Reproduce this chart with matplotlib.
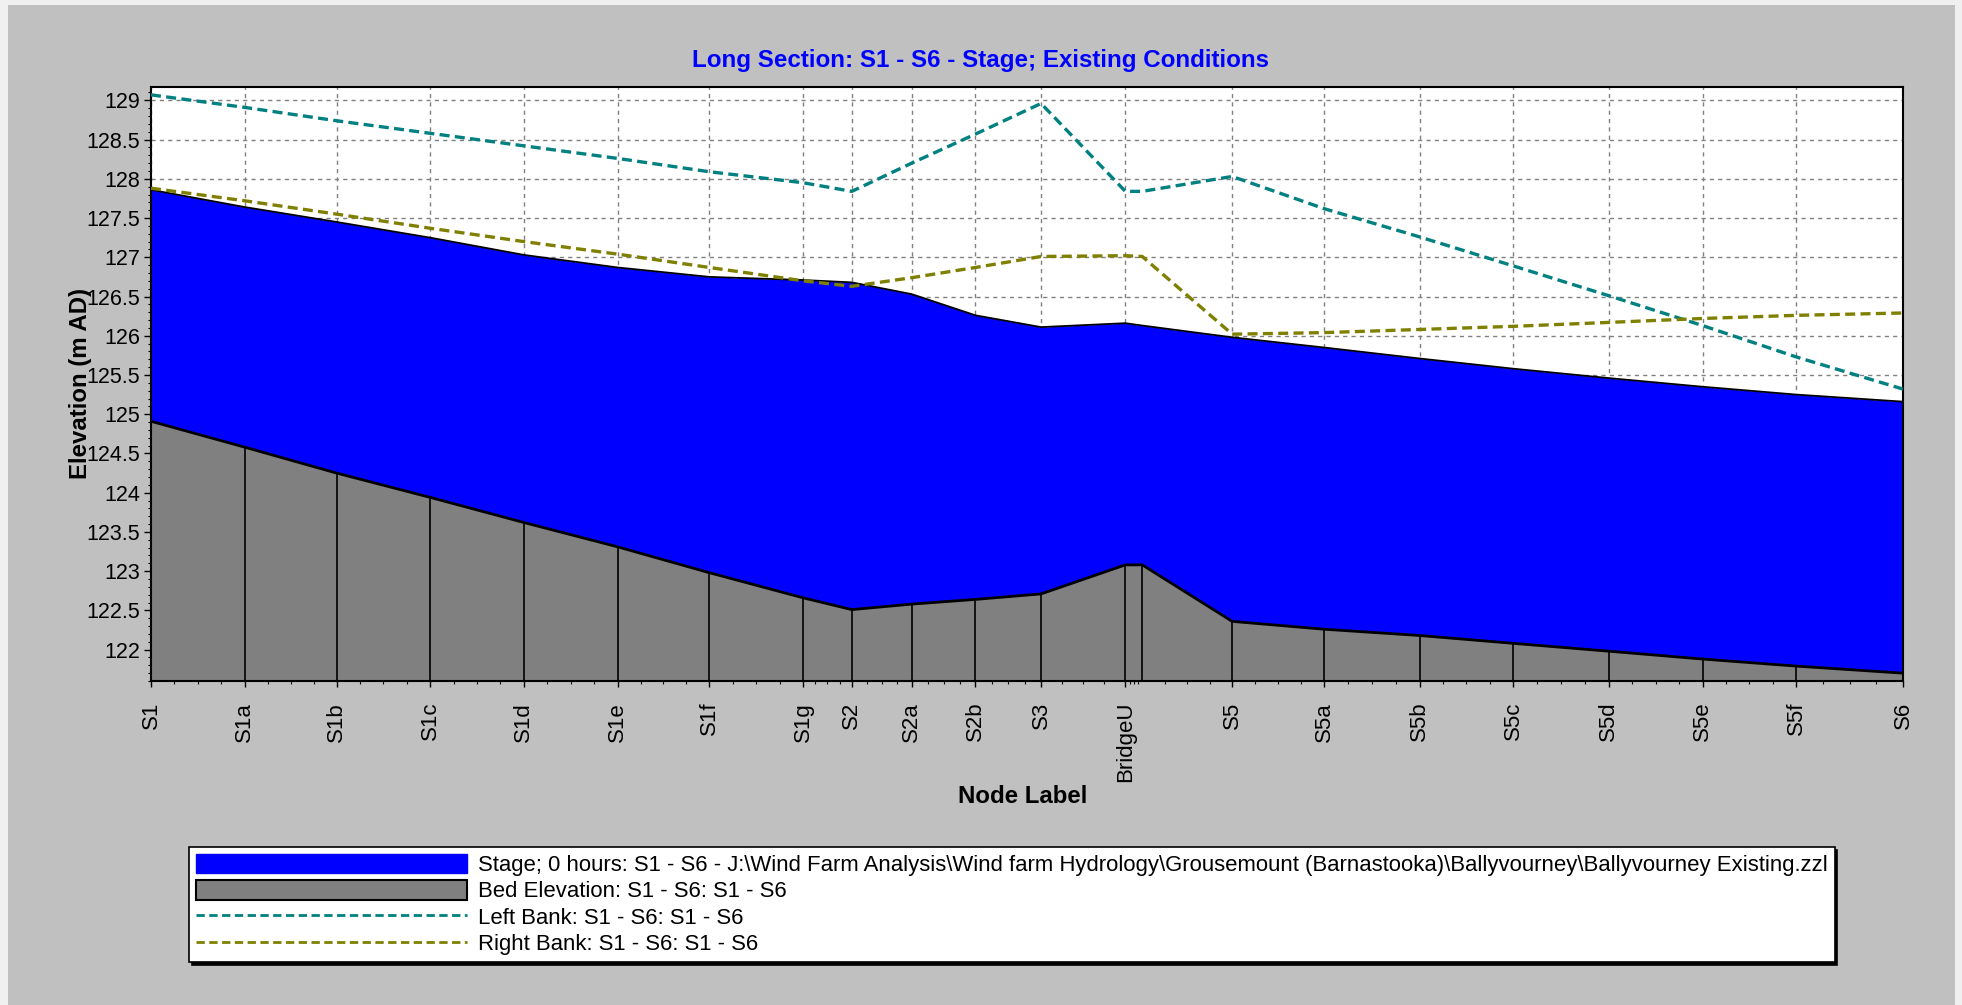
import numpy as np
import matplotlib
matplotlib.use("Agg")
import matplotlib.pyplot as plt
from matplotlib.patches import Patch, Rectangle
from matplotlib.lines import Line2D
from matplotlib.ticker import FixedLocator, MultipleLocator, FuncFormatter

plt.rcParams['font.family'] = ['Liberation Sans', 'DejaVu Sans']

# nodes along the reach and their chainage (m)
nodes = ["S1", "S1a", "S1b", "S1c", "S1d", "S1e", "S1f", "S1g", "S2", "S2a", "S2b", "S3",
         "BridgeU", "BridgeD", "S5", "S5a", "S5b", "S5c", "S5d", "S5e", "S5f", "S6"]
chainage = [0, 50, 99, 149, 199, 249, 298, 348, 374, 406, 440, 475,
            520, 529, 577, 626, 677, 727, 778, 828, 878, 935]

# levels (m AD)
stage = [127.86, 127.64, 127.45, 127.25, 127.03, 126.87, 126.75, 126.71, 126.68, 126.53, 126.26, 126.11,
         126.16, 126.13, 125.98, 125.85, 125.71, 125.58, 125.46, 125.35, 125.25, 125.16]
bed = [124.91, 124.58, 124.25, 123.94, 123.62, 123.31, 122.98, 122.66, 122.51, 122.58, 122.64, 122.71,
       123.08, 123.08, 122.36, 122.26, 122.18, 122.08, 121.98, 121.88, 121.79, 121.70]
left_bank = [129.07, 128.91, 128.74, 128.58, 128.42, 128.26, 128.09, 127.95, 127.84, 128.20, 128.57, 128.96,
             127.84, 127.84, 128.03, 127.62, 127.26, 126.89, 126.51, 126.13, 125.73, 125.32]
right_bank = [127.88, 127.72, 127.55, 127.37, 127.20, 127.04, 126.87, 126.70, 126.63, 126.74, 126.87, 127.01,
              127.02, 127.01, 126.02, 126.04, 126.08, 126.12, 126.17, 126.22, 126.26, 126.29]

# BridgeD label is hidden behind BridgeU in the original
hidden = ["BridgeD"]

legend_labels = [
    "Stage; 0 hours: S1 - S6 - J:\\Wind Farm Analysis\\Wind farm Hydrology\\Grousemount (Barnastooka)\\Ballyvourney\\Ballyvourney Existing.zzl",
    "Bed Elevation: S1 - S6: S1 - S6",
    "Left Bank: S1 - S6: S1 - S6",
    "Right Bank: S1 - S6: S1 - S6",
]

W, H = 1962, 1005
fig = plt.figure(figsize=(W / 100, H / 100), dpi=100, facecolor='#F0F0F0')
fig.patches.append(Rectangle((8 / W, 0), (1955 - 8) / W, 1 - 5 / H, transform=fig.transFigure,
                             facecolor='#C0C0C0', edgecolor='none', zorder=-10))

ax = fig.add_axes([151 / W, 1 - 681 / H, (1903 - 151) / W, (681 - 87) / H])
ax.set_facecolor('white')

ymin, ymax = 121.6, 129.17
x = np.array(chainage)
ax.fill_between(x, bed, stage, color='#0000FF', lw=0, zorder=2)
ax.fill_between(x, ymin, bed, color='#808080', lw=0, zorder=2)
ax.plot(x, stage, color='black', lw=1.3, zorder=3)
ax.plot(x, bed, color='black', lw=2, zorder=3)
ax.vlines(x, ymin, bed, colors='black', lw=1.2, zorder=3)
ax.plot(x, left_bank, color='#008080', lw=2.4, ls=(0, (3, 1.6)), zorder=4)
ax.plot(x, right_bank, color='#808000', lw=2.4, ls=(0, (3, 1.6)), zorder=4)

ax.set_xlim(0, chainage[-1])
ax.set_ylim(ymin, ymax)

shown = [i for i, n in enumerate(nodes) if n not in hidden]
ax.xaxis.set_major_locator(FixedLocator([chainage[i] for i in shown]))
ax.set_xticklabels([nodes[i] for i in shown], rotation=90, va='top', ha='center')
minor = []
for a, b in zip(chainage[:-1], chainage[1:]):
    minor += [a + (b - a) * k / 4 for k in (1, 2, 3)]
ax.xaxis.set_minor_locator(FixedLocator(minor))

ax.yaxis.set_major_locator(MultipleLocator(0.5))
ax.yaxis.set_minor_locator(MultipleLocator(0.1))
ax.yaxis.set_major_formatter(FuncFormatter(lambda v, p: f"{v:g}"))

ax.tick_params(axis='x', which='major', length=4, width=1, labelsize=16, pad=11)
ax.tick_params(axis='x', which='minor', length=2.5, width=0.8)
ax.tick_params(axis='y', which='major', length=5, width=1, labelsize=15.5, pad=3)
ax.tick_params(axis='y', which='minor', length=2, width=0.8)

ax.set_axisbelow(True)
ax.grid(True, which='major', color='#808080', ls=(0, (3, 3)), lw=1)
for s in ax.spines.values():
    s.set_linewidth(1.5)
    s.set_color('black')

fig.text(981 / W, 1 - 60 / H, "Long Section: S1 - S6 - Stage; Existing Conditions",
         ha='center', va='center', color='#0000FF', fontsize=17.4, fontweight='bold')
fig.text(80 / W, 1 - 383 / H, "Elevation (m AD)", rotation=90, ha='center', va='center',
         fontsize=17.3, fontweight='bold')
fig.text(1023 / W, 1 - 796 / H, "Node Label", ha='center', va='center',
         fontsize=17.3, fontweight='bold')

handles = [
    Patch(facecolor='#0000FF', edgecolor='#0000FF'),
    Patch(facecolor='#808080', edgecolor='black', lw=1.5),
    Line2D([], [], color='#008080', lw=2, ls=(0, (3, 1.6))),
    Line2D([], [], color='#808000', lw=2, ls=(0, (3, 1.6))),
]
leg = fig.legend(handles, legend_labels, loc='upper left',
                 bbox_to_anchor=(189 / W, 1 - 847 / H), bbox_transform=fig.transFigure,
                 fontsize=15.9, handlelength=12.3, handleheight=1.0, handletextpad=0.5,
                 labelspacing=0.18, borderpad=0.3, borderaxespad=0,
                 frameon=True, fancybox=False, edgecolor='black', framealpha=1,
                 shadow={'color': 'black', 'alpha': 1})
leg.get_frame().set_linewidth(1.2)

fig.savefig("out.png", dpi=100, facecolor=fig.get_facecolor())
